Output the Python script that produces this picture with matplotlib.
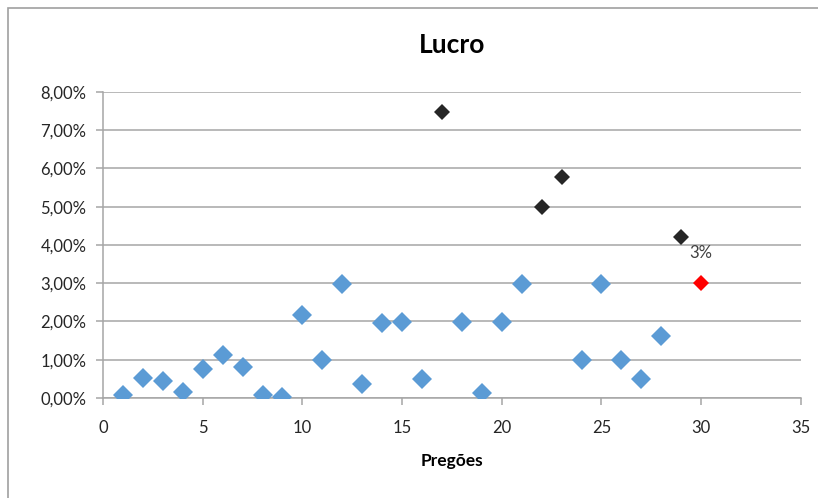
import matplotlib.pyplot as plt
from matplotlib.patches import Rectangle
from matplotlib.ticker import FuncFormatter, MultipleLocator

plt.rcParams['font.family'] = ['Lato', 'DejaVu Sans']

# pregoes e lucro (%)
pregoes = list(range(1, 31))
lucro = [0.08, 0.52, 0.45, 0.15, 0.76, 1.12, 0.81, 0.08, 0.03, 2.17,
         1.00, 2.98, 0.37, 1.96, 1.99, 0.50, 7.48, 1.99, 0.13, 1.99,
         2.98, 5.00, 5.78, 1.00, 2.98, 1.00, 0.50, 1.62, 4.21, 3.00]
# pontos em destaque
destaque_preto = [17, 22, 23, 29]
destaque_vermelho = [30]
rotulo = "3%"

azul = [(x, y) for x, y in zip(pregoes, lucro) if x not in destaque_preto + destaque_vermelho]
preto = [(x, y) for x, y in zip(pregoes, lucro) if x in destaque_preto]
verm = [(x, y) for x, y in zip(pregoes, lucro) if x in destaque_vermelho]

fig = plt.figure(figsize=(8.18, 4.98), dpi=100)
ax = fig.add_axes([0.126, 0.2008, 0.853, 0.6145])

fig.patches.append(Rectangle((8/818, -0.1), 1.1, 1 - 8/498 + 0.1, transform=fig.transFigure,
                             fill=False, edgecolor='#a0a0a0', linewidth=1.2))

gc = '#a6a6a6'
ax.set_axisbelow(True)
ax.grid(axis='y', color=gc, linewidth=1.1)
ax.plot(*zip(*azul), 'D', color='#5b9bd5', markersize=10, markeredgewidth=0, zorder=3)
ax.plot(*zip(*preto), 'D', color='#262626', markersize=8.5, markeredgewidth=0, zorder=3)
ax.plot(*zip(*verm), 'D', color='#ff0000', markersize=8.5, markeredgewidth=0, zorder=3)
for x, y in verm:
    ax.annotate(rotulo, (x, y), xytext=(0, 16), textcoords='offset points', ha='center',
                va='bottom', fontsize=12, color='#404040')

ax.set_xlim(0, 35)
ax.set_ylim(0, 8)
ax.xaxis.set_major_locator(MultipleLocator(5))
ax.yaxis.set_major_locator(MultipleLocator(1))
ax.yaxis.set_major_formatter(FuncFormatter(lambda v, p: f"{v:.2f}%".replace('.', ',')))
for s in ['top', 'right']:
    ax.spines[s].set_visible(False)
for s in ['left', 'bottom']:
    ax.spines[s].set_color(gc)
    ax.spines[s].set_linewidth(1.1)
ax.tick_params(colors=gc, labelcolor='#262626', labelsize=12, length=5, width=1.1)
ax.tick_params(axis='x', pad=11)
ax.tick_params(axis='y', pad=7)

ax.set_title("Lucro", fontsize=19, fontweight='bold', pad=28)
ax.set_xlabel("Pregões", fontsize=12.5, fontweight='bold', labelpad=12)

fig.savefig("out.png", dpi=100)
